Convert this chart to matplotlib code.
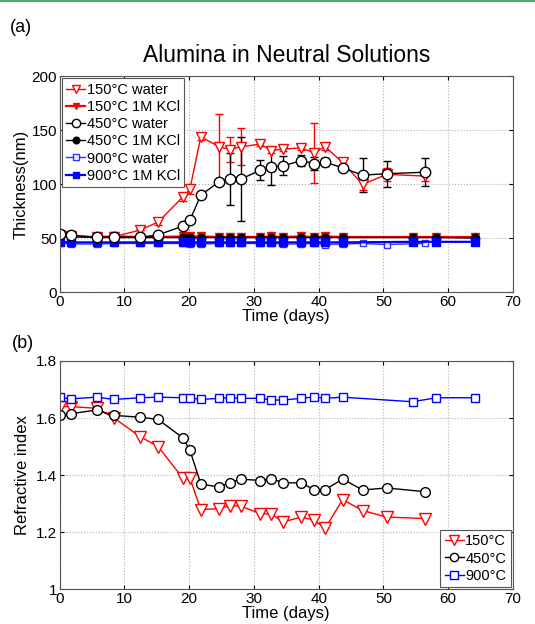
import matplotlib
matplotlib.use("Agg")
import matplotlib.pyplot as plt
from matplotlib.lines import Line2D

# --- data -------------------------------------------------------------------
t_water = [0, 1.7, 5.7, 8.4, 12.4, 15.2, 19.0, 20.1, 21.8, 24.6, 26.3, 28.0,
           31.0, 32.7, 34.5, 37.3, 39.3, 41.0, 43.7, 46.8, 50.5, 56.4]
t_kcl = [0, 1.7, 5.7, 8.4, 12.4, 15.2, 19.0, 20.1, 21.8, 24.6, 26.3, 28.0,
         31.0, 32.7, 34.5, 37.3, 39.3, 41.0, 43.7, 54.5, 58.2, 64.2]

thk_150_water = [53, 52, 51, 51.2, 57.4, 64.8, 88, 95, 143.8, 134.6, 132, 134.6,
                 137, 131, 132.4, 133.6, 129, 134.6, 120, 99.7, 109, 107.4]
err_150_water = [0, 0, 0, 0, 0, 3, 4, 4, 3, 30, 12, 17,
                 2, 2, 2, 2, 28, 3, 3, 5, 6, 5]
thk_150_kcl = [52, 51.5, 51, 51.5, 51, 51, 51.5, 51.5, 51.5, 51, 51, 51,
               51, 51.5, 51, 51.5, 51, 51.5, 51, 51, 51, 51]
thk_450_water = [53.4, 52.5, 50.6, 51, 50.6, 53, 61, 66.3, 89.8, 102, 104.6, 104.6,
                 113, 116, 117, 121.6, 119, 120.4, 115, 108.3, 109.6, 111]
err_450_water = [0, 0, 0, 0, 0, 0, 0, 0, 0, 0, 24, 39,
                 9, 17, 9, 5, 6, 4, 3, 16, 12, 13]
thk_450_kcl = [52.5, 51.5, 50.5, 50.5, 50.5, 50.5, 50.5, 50.5, 50.5, 50.5, 50.5, 50.5,
               50.5, 50.5, 50.5, 50.5, 50.5, 50.5, 50.5, 50.5, 50.5, 50]
thk_900_water = [45.5, 44.5, 44.5, 45, 45, 45, 45, 44.5, 44.5, 45, 45, 45,
                 45, 45, 44.5, 44.5, 45, 44, 44.5, 45, 44, 45]
thk_900_kcl = [46.5, 46, 46, 46, 46, 46, 46, 46, 46, 46, 46, 46,
               46, 46, 46, 46, 46, 46, 46, 46.5, 46.5, 46.5]

t_ri_150 = t_water
t_ri_450 = t_water
t_ri_900 = t_kcl
ri_150 = [1.640, 1.640, 1.634, 1.600, 1.535, 1.500, 1.390, 1.390, 1.279, 1.283, 1.293, 1.291,
          1.265, 1.263, 1.236, 1.253, 1.242, 1.213, 1.314, 1.276, 1.253, 1.248]
ri_450 = [1.609, 1.615, 1.628, 1.609, 1.603, 1.595, 1.531, 1.488, 1.369, 1.358, 1.374, 1.386,
          1.381, 1.388, 1.373, 1.373, 1.349, 1.349, 1.386, 1.348, 1.355, 1.342]
ri_900 = [1.672, 1.667, 1.673, 1.665, 1.671, 1.673, 1.671, 1.671, 1.665, 1.669, 1.671, 1.669,
          1.669, 1.663, 1.663, 1.669, 1.674, 1.669, 1.673, 1.657, 1.671, 1.671]

RED = "#ff0000"
BLUE = "#0000ff"
BLK = "#000000"

plt.rcParams.update({
    "font.family": ["Liberation Sans", "DejaVu Sans"],
    "font.size": 11,
    "axes.linewidth": 0.8,
    "axes.edgecolor": "#555555",
    "xtick.direction": "in",
    "ytick.direction": "in",
    "xtick.top": True,
    "ytick.right": True,
    "xtick.major.size": 3,
    "ytick.major.size": 3,
    "xtick.major.pad": 2,
    "ytick.major.pad": 2,
    "xtick.labelsize": 11,
    "ytick.labelsize": 11,
})

fig = plt.figure(figsize=(5.35, 6.24), dpi=100)
fig.add_artist(Line2D([0, 1], [0.9985, 0.9985], color="#2ca046", lw=1.2))

ax1 = fig.add_axes([0.1116, 0.532, 0.847, 0.346])
ax2 = fig.add_axes([0.1116, 0.0556, 0.847, 0.366])

# --- top panel: thickness ---------------------------------------------------
ekw = dict(capsize=3, elinewidth=1, capthick=1, lw=1)
h1 = ax1.errorbar(t_water, thk_150_water, yerr=err_150_water, color=RED, marker="v",
                  ms=7.5, mfc="white", mec=RED, **ekw)
h2, = ax1.plot(t_kcl, thk_150_kcl, color=RED, marker="v", ms=6, mfc=RED, mec=RED,
               lw=1.6)
h3 = ax1.errorbar(t_water, thk_450_water, yerr=err_450_water, color=BLK, marker="o",
                  ms=7.5, mfc="white", mec=BLK, **ekw)
h4, = ax1.plot(t_kcl, thk_450_kcl, color=BLK, marker="o", ms=6, mfc=BLK, mec=BLK,
               lw=1)
h5, = ax1.plot(t_water, thk_900_water, color=BLUE, marker="s", ms=5, mfc="white",
               mec=BLUE, lw=1, alpha=0.8)
h6, = ax1.plot(t_kcl, thk_900_kcl, color=BLUE, marker="s", ms=6, mfc=BLUE, mec=BLUE,
               lw=1.6)

ax1.set_xlim(0, 70)
ax1.set_ylim(0, 200)
ax1.set_xticks(range(0, 71, 10))
ax1.set_yticks([0, 50, 100, 150, 200])
ax1.grid(True, linestyle=":", color="#b0b0b0", lw=0.8)
ax1.set_axisbelow(True)
ax1.set_xlabel("Time (days)", fontsize=12, labelpad=0)
ax1.set_ylabel("Thickness(nm)", fontsize=12, labelpad=2)
ax1.set_title("Alumina in Neutral Solutions", fontsize=16.5, pad=10)
leg1 = ax1.legend([h1[0], h2, h3[0], h4, h5, h6],
                  ["150°C water", "150°C 1M KCl", "450°C water", "450°C 1M KCl",
                   "900°C water", "900°C 1M KCl"],
                  loc="upper left", fontsize=10.5, frameon=True, fancybox=False,
                  edgecolor="#555555", framealpha=1, handlelength=1.3,
                  handletextpad=0.1, borderpad=0.3, labelspacing=0.22,
                  borderaxespad=0.15, markerscale=0.8)
leg1.get_frame().set_linewidth(0.8)
fig.text(0.019, 0.948, "(a)", fontsize=13)

# --- bottom panel: refractive index ----------------------------------------
ax2.plot(t_ri_150, ri_150, color=RED, marker="v", ms=8, mfc="white", mec=RED,
         lw=1, label="150°C")
ax2.plot(t_ri_450, ri_450, color=BLK, marker="o", ms=7, mfc="white", mec=BLK,
         lw=1, label="450°C")
ax2.plot(t_ri_900, ri_900, color=BLUE, marker="s", ms=6, mfc="white", mec=BLUE,
         lw=1, label="900°C")

ax2.set_xlim(0, 70)
ax2.set_ylim(1, 1.8)
ax2.set_xticks(range(0, 71, 10))
ax2.set_yticks([1, 1.2, 1.4, 1.6, 1.8])
ax2.set_yticklabels(["1", "1.2", "1.4", "1.6", "1.8"])
ax2.grid(True, linestyle=":", color="#b0b0b0", lw=0.8)
ax2.set_axisbelow(True)
ax2.set_xlabel("Time (days)", fontsize=12, labelpad=0)
ax2.set_ylabel("Refractive index", fontsize=12, labelpad=4)
leg2 = ax2.legend(loc="lower right", fontsize=10.5, frameon=True, fancybox=False,
                  edgecolor="#555555", framealpha=1, handlelength=1.3,
                  handletextpad=0.1, borderpad=0.3, labelspacing=0.22,
                  borderaxespad=0.15, markerscale=0.85)
leg2.get_frame().set_linewidth(0.8)
fig.text(0.022, 0.443, "(b)", fontsize=13)

fig.savefig("out.png", dpi=100, facecolor="white")
